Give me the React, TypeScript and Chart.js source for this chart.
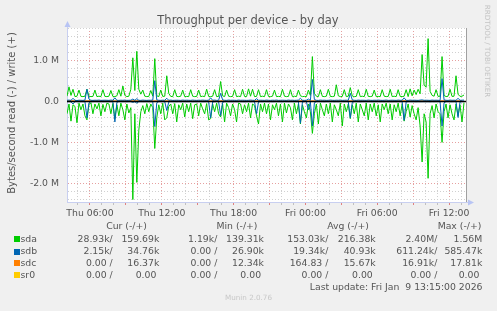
import React, { useEffect, useRef } from 'react';
import { Chart, registerables } from 'chart.js';

Chart.register(...registerables);

const W = 497;
const H = 311;

// time axis, minutes since Thu 00:00
const X_MIN = 245;
const X_MAX = 2245;
const SAMPLE_START = 245;
const SAMPLE_STEP = 10;
const HOURLY_STEP = 60;
const SR0_STEP = 1990;

const dayNames = ['Thu', 'Fri'];
const yMin = -2460000;
const yMax = 1800000;
const yGridStep = 200000;
const xGridStep = 60;

// values in kB/s
const sdaWriteK = [
  130, 360, 150, 300, 120, 130, 280, 125, 120, 130, 300, 130, 120, 125, 280, 120, 130, 120, 290, 125,
  120, 130, 270, 125, 120, 140, 290, 130, 380, 150, 120, 130, 300, 1070, 270, 1230, 300, 180, 280, 130,
  120, 125, 270, 130, 1050, 140, 120, 280, 125, 130, 630, 200, 125, 120, 290, 125, 120, 130, 280, 120,
  125, 120, 290, 130, 120, 125, 280, 120, 130, 120, 300, 125, 120, 130, 290, 120, 125, 490, 140, 120,
  280, 130, 120, 125, 290, 120, 130, 120, 300, 125, 120, 310, 130, 300, 120, 125, 290, 120, 130, 120,
  290, 125, 120, 130, 280, 120, 125, 120, 300, 130, 120, 125, 290, 120, 130, 120, 280, 140, 120, 125,
  120, 280, 150, 1100, 200, 130, 120, 290, 125, 120, 130, 300, 125, 120, 130, 410, 140, 120, 125, 290,
  120, 130, 340, 135, 120, 125, 290, 120, 130, 120, 300, 125, 120, 130, 280, 120, 125, 120, 290, 130,
  120, 125, 300, 120, 130, 120, 290, 125, 120, 130, 290, 120, 310, 140, 280, 170, 300, 190, 1150, 400,
  350, 1540, 250, 150, 130, 290, 125, 130, 1100, 150, 120, 130, 300, 125, 130, 630, 180, 125, 130, 160,
];
const sdaReadK = [
  300, 60, 480, 80, 120, 520, 40, 200, 60, 350, 450, 80, 30, 300, 60, 180, 40, 350, 70, 250,
  40, 60, 300, 50, 420, 80, 350, 40, 200, 450, 60, 280, 150, 2400, 300, 1980, 700, 250, 100, 300,
  50, 250, 60, 150, 1150, 400, 80, 300, 40, 450, 400, 120, 60, 300, 50, 500, 80, 200, 40, 380,
  60, 250, 40, 420, 80, 60, 350, 40, 180, 300, 50, 450, 420, 60, 250, 40, 300, 380, 60, 500,
  40, 150, 350, 60, 200, 500, 40, 60, 300, 80, 250, 40, 400, 60, 100, 350, 550, 60, 250, 40,
  300, 60, 450, 80, 200, 40, 350, 60, 500, 40, 280, 60, 150, 450, 40, 300, 60, 550, 80, 250,
  400, 60, 250, 780, 300, 60, 550, 40, 200, 350, 60, 300, 40, 500, 80, 200, 350, 40, 600, 60,
  250, 60, 420, 80, 300, 40, 500, 60, 200, 350, 40, 450, 60, 250, 40, 350, 80, 500, 60, 200,
  40, 300, 60, 450, 80, 250, 40, 350, 60, 480, 250, 60, 380, 100, 300, 450, 150, 600, 1480, 300,
  500, 1880, 300, 100, 400, 60, 250, 300, 1000, 250, 60, 400, 80, 300, 450, 60, 350, 80, 500, 29,
];
const sdbWriteK = [
  30, 35, 28, 80, 30, 25, 32, 30, 28, 35, 300, 60, 30, 28, 32, 30, 35, 28, 30, 32,
  30, 28, 35, 30, 90, 30, 28, 32, 30, 35, 28, 30, 32, 60, 30, 70, 30, 28, 35, 30,
  28, 32, 30, 35, 510, 40, 30, 28, 32, 30, 80, 30, 35, 28, 30, 32, 30, 28, 35, 30,
  32, 30, 28, 35, 30, 28, 32, 30, 35, 30, 28, 32, 90, 30, 35, 28, 30, 200, 40, 30,
  28, 35, 30, 32, 30, 28, 35, 30, 32, 30, 28, 30, 35, 30, 28, 70, 30, 32, 30, 28,
  35, 30, 28, 32, 30, 35, 28, 30, 32, 30, 28, 35, 30, 32, 28, 30, 35, 80, 30, 28,
  32, 60, 30, 540, 50, 30, 28, 35, 30, 32, 28, 30, 35, 30, 28, 32, 30, 35, 28, 30,
  32, 30, 200, 40, 30, 28, 35, 30, 32, 30, 28, 35, 30, 28, 32, 30, 35, 30, 28, 30,
  35, 28, 30, 32, 30, 28, 35, 30, 32, 90, 30, 28, 35, 30, 32, 30, 28, 35, 40, 30,
  32, 30, 28, 35, 30, 32, 30, 28, 560, 40, 30, 28, 35, 30, 32, 28, 80, 30, 32, 35,
];
const sdbReadK = [
  5, 3, 8, 60, 4, 2, 6, 3, 5, 4, 400, 30, 3, 5, 2, 4, 6, 3, 5, 4,
  3, 5, 4, 6, 500, 20, 3, 4, 5, 3, 6, 4, 3, 20, 5, 40, 4, 3, 5, 4,
  3, 5, 4, 6, 611, 30, 4, 3, 5, 4, 220, 10, 3, 5, 4, 6, 3, 5, 4, 3,
  5, 4, 3, 6, 4, 5, 3, 4, 6, 5, 3, 4, 400, 10, 5, 3, 4, 340, 20, 4,
  3, 5, 4, 6, 3, 5, 4, 3, 5, 6, 4, 3, 5, 4, 3, 300, 10, 4, 5, 3,
  4, 5, 3, 6, 4, 3, 5, 4, 6, 3, 4, 5, 3, 4, 6, 5, 3, 530, 10, 4,
  5, 200, 10, 600, 30, 4, 3, 5, 4, 6, 3, 4, 5, 3, 6, 4, 5, 3, 4, 5,
  3, 5, 400, 20, 4, 3, 5, 6, 4, 3, 5, 4, 3, 6, 5, 4, 3, 5, 4, 6,
  3, 5, 4, 6, 3, 5, 4, 3, 5, 460, 10, 4, 3, 5, 4, 6, 3, 5, 4, 3,
  5, 4, 6, 3, 5, 4, 3, 5, 600, 30, 4, 3, 5, 6, 4, 3, 390, 10, 4, 2,
];
const sdcWriteK = [16, 15, 17, 16, 14, 16, 18, 15, 16, 17, 15, 16, 14, 17, 16, 15, 18, 16, 15, 16, 17, 14, 16, 15, 16, 17, 15, 16, 18, 15, 16, 17, 16, 16];
const sdcReadK = [0, 0, 0.5, 0, 0, 0, 0, 2, 0, 0, 0, 0, 0, 0, 1, 0, 0, 0, 0, 0, 0, 0, 0, 0, 0, 0, 0, 3, 0, 0, 0, 0, 0, 0];
const sr0K = [0, 0];

const titleText = 'Throughput per device - by day';
const yTitleText = 'Bytes/second read (-) / write (+)';
const sideText = 'RRDTOOL / TOBI OETIKER';
const footerText = 'Munin 2.0.76';
const updateText = 'Last update: Fri Jan  9 13:15:00 2026';

const legendNames = ['sda', 'sdb', 'sdc', 'sr0'];
const legendColors = ['#00cc00', '#0066b3', '#ff8000', '#ffcc00'];
const legendHeaders = ['Cur (-/+)', 'Min (-/+)', 'Avg (-/+)', 'Max (-/+)'];
const legendRows = [
  ['28.93k/', '159.69k', '1.19k/', '139.31k', '153.03k/', '216.38k', '2.40M/', '1.56M'],
  ['2.15k/', '34.76k', '0.00 /', '26.90k', '19.34k/', '40.93k', '611.24k/', '585.47k'],
  ['0.00 /', '16.37k', '0.00 /', '12.34k', '164.83 /', '15.67k', '16.91k/', '17.81k'],
  ['0.00 /', '0.00 ', '0.00 /', '0.00 ', '0.00 /', '0.00 ', '0.00 /', '0.00 '],
];

const FONT = "'DejaVu Sans', sans-serif";
const TEXT = '#555555';
const GRID_MINOR = '#d0d0d0';
const GRID_MAJOR = '#e6a0a0';
const AXIS = '#c8cff0';

function series(arr: number[], start: number, step: number, sign: number) {
  return arr.map((v, i) => ({ x: start + i * step, y: sign * v * 1000 }));
}

function lineDs(data: any[], color: string, width = 1) {
  return {
    data,
    borderColor: color,
    backgroundColor: color,
    borderWidth: width,
    pointRadius: 0,
    tension: 0,
    fill: false,
  };
}

function isMajorY(v: number) {
  const m = v / 1e6;
  return Math.abs(m - Math.round(m)) < 1e-6;
}

const muninPlugin = {
  id: 'munin',
  beforeDraw(chart: any) {
    const { ctx, chartArea: a } = chart;
    ctx.save();
    ctx.fillStyle = '#f0f0f0';
    ctx.fillRect(0, 0, W, H);
    ctx.fillStyle = '#ffffff';
    ctx.fillRect(a.left, a.top, a.right - a.left, a.bottom - a.top);
    ctx.restore();
  },
  afterDraw(chart: any) {
    const { ctx, chartArea: a } = chart;
    ctx.save();
    // right frame
    ctx.strokeStyle = '#a0a0a0';
    ctx.lineWidth = 1;
    ctx.beginPath();
    ctx.moveTo(Math.round(a.right) + 0.5, a.top);
    ctx.lineTo(Math.round(a.right) + 0.5, a.bottom);
    ctx.stroke();
    // axis extensions + arrows
    ctx.strokeStyle = AXIS;
    ctx.beginPath();
    ctx.moveTo(a.left + 0.5, a.top);
    ctx.lineTo(a.left + 0.5, a.top - 2);
    ctx.moveTo(a.right, Math.round(a.bottom) + 0.5);
    ctx.lineTo(a.right + 3, Math.round(a.bottom) + 0.5);
    ctx.stroke();
    ctx.fillStyle = '#b8c4f4';
    ctx.beginPath();
    ctx.moveTo(a.left - 2.5, a.top - 1);
    ctx.lineTo(a.left + 3.5, a.top - 1);
    ctx.lineTo(a.left + 0.5, a.top - 7);
    ctx.closePath();
    ctx.fill();
    ctx.beginPath();
    ctx.moveTo(a.right + 2, a.bottom - 2.5);
    ctx.lineTo(a.right + 2, a.bottom + 3.5);
    ctx.lineTo(a.right + 8, a.bottom + 0.5);
    ctx.closePath();
    ctx.fill();

    // title
    ctx.fillStyle = TEXT;
    ctx.textBaseline = 'middle';
    ctx.textAlign = 'center';
    ctx.font = `11.5px ${FONT}`;
    ctx.fillText(titleText, 248, 21);

    // y axis title
    ctx.save();
    ctx.translate(12, 113);
    ctx.rotate(-Math.PI / 2);
    ctx.font = `10px ${FONT}`;
    ctx.fillText(yTitleText, 0, 0);
    ctx.restore();

    // side text
    ctx.save();
    ctx.translate(487, 51);
    ctx.rotate(Math.PI / 2);
    ctx.fillStyle = '#c4c4c4';
    ctx.font = `7.2px ${FONT}`;
    ctx.fillText(sideText, 0, 0);
    ctx.restore();

    // legend
    ctx.font = `9.3px ${FONT}`;
    ctx.fillStyle = TEXT;
    const headerX = [126.5, 237, 348, 459.5];
    legendHeaders.forEach((h, i) => ctx.fillText(h, headerX[i], 226.5));
    const rowY = [239.3, 251.5, 263.3, 275.2];
    const colRight = [112.7, 159.3, 217.3, 264, 328.3, 375.7, 437.3, 482.3];
    legendNames.forEach((name, r) => {
      ctx.fillStyle = legendColors[r];
      ctx.fillRect(14, Math.round(rowY[r]) - 3, 6, 6);
      ctx.fillStyle = TEXT;
      ctx.textAlign = 'left';
      ctx.fillText(name, 20.5, rowY[r]);
      ctx.textAlign = 'right';
      legendRows[r].forEach((s, c) => ctx.fillText(s, colRight[c], rowY[r]));
    });
    ctx.textAlign = 'right';
    ctx.fillText(updateText, 482.5, 288);

    ctx.textAlign = 'center';
    ctx.fillStyle = '#c8c8c8';
    ctx.font = `7.2px ${FONT}`;
    ctx.fillText(footerText, 248.5, 298);
    ctx.restore();
  },
};

function fmtTime(v: number) {
  const day = dayNames[Math.floor(v / 1440)] || '';
  const hh = Math.floor((v % 1440) / 60);
  return `${day} ${String(hh).padStart(2, '0')}:00`;
}

export default function App() {
  const ref = useRef<HTMLCanvasElement | null>(null);

  useEffect(() => {
    if (!ref.current) return;
    const chart = new Chart(ref.current, {
      type: 'line',
      data: {
        datasets: [
          lineDs([{ x: X_MIN, y: 0 }, { x: X_MAX, y: 0 }], '#000000', 1.6),
          lineDs(series(sr0K, SAMPLE_START, SR0_STEP, 1), legendColors[3]),
          lineDs(series(sdbWriteK, SAMPLE_START, SAMPLE_STEP, 1), legendColors[1]),
          lineDs(series(sdbReadK, SAMPLE_START, SAMPLE_STEP, -1), legendColors[1]),
          lineDs(series(sdcWriteK, SAMPLE_START, HOURLY_STEP, 1), legendColors[2]),
          lineDs(series(sdcReadK, SAMPLE_START, HOURLY_STEP, -1), legendColors[2]),
          lineDs(series(sdaWriteK, SAMPLE_START, SAMPLE_STEP, 1), legendColors[0]),
          lineDs(series(sdaReadK, SAMPLE_START, SAMPLE_STEP, -1), legendColors[0]),
        ],
      },
      options: {
        responsive: false,
        animation: false,
        devicePixelRatio: 1,
        parsing: false as any,
        layout: { padding: { left: 0, right: 31, top: 28, bottom: 0 } },
        plugins: {
          legend: { display: false },
          tooltip: { enabled: false },
          title: { display: false },
        },
        scales: {
          x: {
            type: 'linear',
            min: X_MIN,
            max: X_MAX,
            afterFit: (s: any) => {
              s.height = 109;
            },
            afterBuildTicks: (s: any) => {
              const t: any[] = [];
              for (let v = Math.ceil(X_MIN / xGridStep) * xGridStep; v < X_MAX; v += xGridStep) t.push({ value: v });
              s.ticks = t;
            },
            ticks: {
              autoSkip: false,
              maxRotation: 0,
              minRotation: 0,
              padding: 3,
              color: TEXT,
              font: { family: FONT, size: 9.3 },
              callback: (v: any) => (Number(v) % 360 === 0 ? fmtTime(Number(v)) : ''),
            },
            grid: {
              color: (c: any) => (c.tick && c.tick.value % 180 === 0 ? GRID_MAJOR : GRID_MINOR),
              tickColor: (c: any) => (c.tick && c.tick.value % 180 === 0 ? '#e08080' : '#c0c0c0'),
              lineWidth: 1,
              drawTicks: true,
              tickLength: 3,
              tickBorderDash: [],
            },
            border: { display: true, color: AXIS, width: 1, dash: [1, 2] },
          },
          y: {
            min: yMin,
            max: yMax,
            afterFit: (s: any) => {
              s.width = 67;
            },
            afterBuildTicks: (s: any) => {
              const t: any[] = [];
              for (let k = Math.ceil(yMin / yGridStep); k * yGridStep <= yMax; k++) t.push({ value: k * yGridStep });
              s.ticks = t;
            },
            ticks: {
              autoSkip: false,
              padding: 8,
              color: TEXT,
              font: { family: FONT, size: 9.3 },
              callback: (v: any) => {
                const n = Number(v);
                if (!isMajorY(n)) return '';
                const m = Math.round(n / 1e6);
                return m === 0 ? '0.0' : `${m.toFixed(1)} M`;
              },
            },
            grid: {
              color: (c: any) => (c.tick && isMajorY(c.tick.value) ? GRID_MAJOR : GRID_MINOR),
              lineWidth: 1,
              drawTicks: false,
            },
            border: { display: true, color: AXIS, width: 1, dash: [1, 2] },
          },
        },
      } as any,
      plugins: [muninPlugin],
    });
    return () => chart.destroy();
  }, []);

  return (
    <div style={{ position: 'fixed', left: 0, top: 0, width: W, height: H, background: '#f0f0f0' }}>
      <canvas ref={ref} width={W} height={H} style={{ width: W, height: H, display: 'block' }} />
    </div>
  );
}
